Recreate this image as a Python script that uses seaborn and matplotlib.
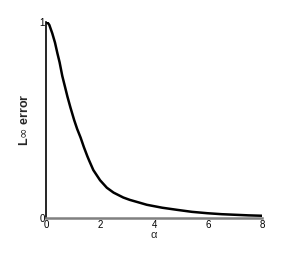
import seaborn as sns
import matplotlib.pyplot as plt
import pandas as pd

# values
alpha = [0.0, 0.05, 0.12, 0.23, 0.33, 0.42, 0.5, 0.6, 0.7, 0.79, 0.9, 1.04, 1.15,
         1.28, 1.4, 1.53, 1.6, 1.75, 2.0, 2.25, 2.5, 2.86, 3.1, 3.48, 3.73, 4.3,
         4.86, 5.4, 5.97, 6.5, 7.0, 7.5, 8.0]
err = [1.0, 0.998, 0.985, 0.942, 0.895, 0.84, 0.795, 0.725, 0.67, 0.62, 0.565, 0.5, 0.455,
       0.41, 0.362, 0.315, 0.292, 0.245, 0.193, 0.155, 0.13, 0.105, 0.093, 0.078, 0.068, 0.053,
       0.042, 0.032, 0.025, 0.02, 0.017, 0.014, 0.012]

df = pd.DataFrame({'alpha': alpha, 'err': err})

sns.set_theme(style='white', rc={'xtick.direction': 'in', 'ytick.direction': 'in',
                                 'xtick.major.size': 4, 'ytick.major.size': 5})
plt.rcParams['font.family'] = ['Liberation Sans', 'DejaVu Sans']

fig = plt.figure(figsize=(2.88, 2.56), dpi=100)
ax = fig.add_axes([0.16, 0.148, 0.75, 0.766])

sns.lineplot(data=df, x='alpha', y='err', color='black', linewidth=1.8, ax=ax)

ax.set_xlim(0, 8)
ax.set_ylim(0, 1)
ax.set_xticks([0, 2, 4, 6, 8])
ax.set_yticks([0, 0.4, 1])
ax.set_yticklabels(['0', '', '1'])
ax.tick_params(axis='both', labelsize=7, pad=1, width=1, colors='#808080', labelcolor='black')

# only some tick marks are drawn in the reference
xt = ax.xaxis.get_major_ticks()
for t in xt[:3]:
    t.tick1line.set_visible(False)
yt = ax.yaxis.get_major_ticks()
yt[0].tick1line.set_visible(False)
yt[2].tick1line.set_visible(False)

for s in ['top', 'right']:
    ax.spines[s].set_visible(False)
ax.spines['left'].set_color('black')
ax.spines['left'].set_linewidth(1.2)
ax.spines['bottom'].set_color('#808080')
ax.spines['bottom'].set_linewidth(1.8)

ax.set_xlabel('α', fontsize=8, labelpad=0)
ax.set_ylabel(r'L$\infty$ error', fontsize=9, fontweight='bold', labelpad=6)

plt.savefig('out.png', dpi=100)
